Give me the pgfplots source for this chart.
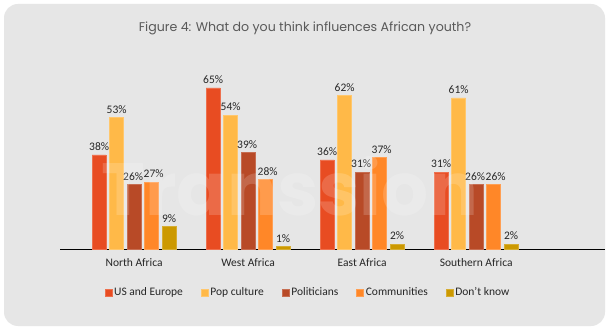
\documentclass[border=0pt]{standalone}
\usepackage{pgfplots}
\pgfplotsset{compat=1.18}
\usepackage{fontspec}
\setmainfont{Carlito}
\newfontfamily\titlefont{Poppins}
\definecolor{bg}{HTML}{E6E6E6}
\definecolor{titlegray}{HTML}{595959}
\definecolor{cUS}{HTML}{E84C22}
\definecolor{cPop}{HTML}{FFB948}
\definecolor{cPol}{HTML}{B84A27}
\definecolor{cCom}{HTML}{FF8728}
\definecolor{cDk}{HTML}{CC9900}
\begin{document}
\begin{tikzpicture}[x=1pt,y=1pt]
\useasboundingbox (0,0) rectangle (610,-331);
\fill[white] (0,0) rectangle (610,-331);
\fill[bg, rounded corners=14pt] (4,-4) rectangle (605,-326);
\node[font=\titlefont\fontsize{12.6}{14}\selectfont, text=titlegray] at (305,-28) {Figure 4: What do you think influences African youth?};
\begin{axis}[
  at={(60pt,-249pt)}, anchor=south west, scale only axis,
  width=545pt, height=173.4pt,
  xmin=-0.65, xmax=4.13, ymin=0, ymax=70,
  ybar=3.5pt, bar width=14pt,
  axis x line*=bottom, axis y line=none,
  x axis line style={black, line width=0.8pt},
  xtick={0,1,2,3},
  xticklabels={North Africa, West Africa, East Africa, Southern Africa},
  major tick length=0pt,
  /pgf/number format/assume math mode=true,
  x tick label style={font=\fontsize{11.5}{13}\selectfont, text=black!85, yshift=-6pt},
  nodes near coords={\pgfmathprintnumber{\pgfplotspointmeta}\%},
  every node near coord/.append style={font=\fontsize{11.5}{13}\selectfont, text=black!85, yshift=2pt, inner sep=2pt},
  legend columns=5,
  legend style={at={(0.455,-0.25)}, anchor=center, draw=none, fill=none,
    font=\fontsize{11.5}{13}\selectfont, text=black!85,
    /tikz/every even column/.append style={column sep=16pt},
    /tikz/every odd column/.append style={column sep=0pt}},
  legend image code/.code={\fill[#1] (0pt,-3.5pt) rectangle (7pt,3.5pt);},
]
\addplot[fill=cUS, draw=cUS!80!white, line width=0.5pt] coordinates {(0,38) (1,65) (2,36) (3,31)};
\addplot[fill=cPop, draw=cPop!80!white, line width=0.5pt] coordinates {(0,53) (1,54) (2,62) (3,61)};
\addplot[fill=cPol, draw=cPol!80!white, line width=0.5pt,
  every node near coord/.append style={xshift=-1pt}] coordinates {(0,26) (1,39) (2,31) (3,26)};
\addplot[fill=cCom, draw=cCom!80!white, line width=0.5pt,
  every node near coord/.append style={xshift=2pt}] coordinates {(0,27) (1,28) (2,37) (3,26)};
\addplot[fill=cDk, draw=cDk!80!white, line width=0.5pt] coordinates {(0,9) (1,1) (2,2) (3,2)};
\legend{US and Europe, Pop culture, Politicians, Communities, Don't know}
\end{axis}
\node[font=\titlefont\bfseries\fontsize{74}{74}\selectfont, text=white, opacity=0.17] at (290,-186) {Transsion};
\end{tikzpicture}
\end{document}
